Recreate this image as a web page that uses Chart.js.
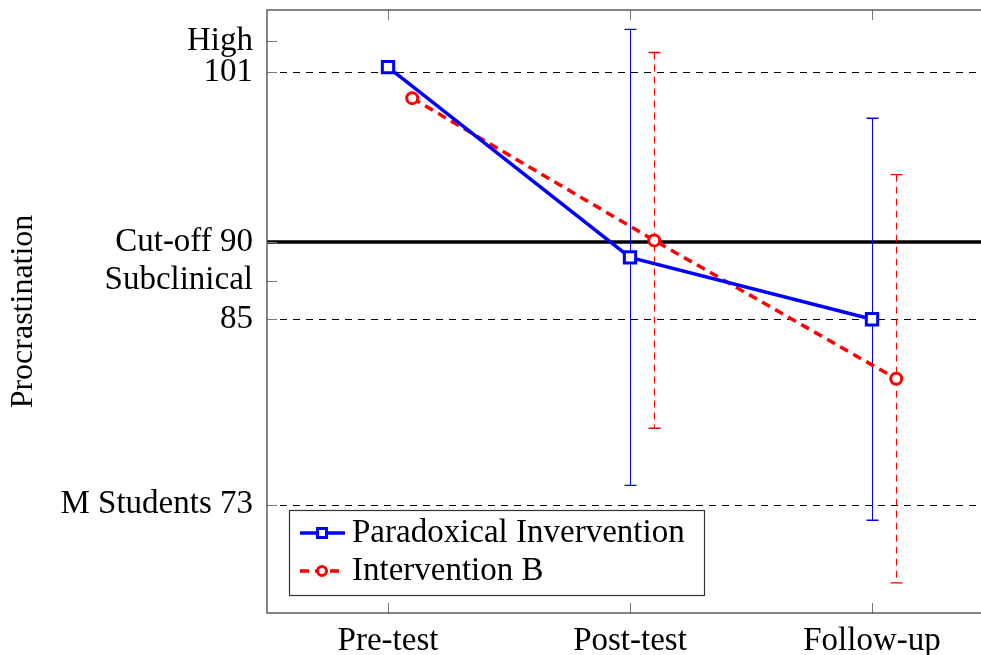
<!DOCTYPE html>
<html lang="en">
  <head>
    <meta charset="UTF-8" />
    <title>Procrastination</title>
    <script src="https://cdn.jsdelivr.net/npm/chart.js"></script>
    <style>
      html, body { margin: 0; background: #fff; overflow: hidden; }
      /* the plot runs past the right edge of the window, as in the picture */
      #wrap { width: 994px; height: 655px; }
    </style>
  </head>
  <body>
    <div id="wrap"><canvas id="myChart"></canvas></div>
    <script>
      // data
      const categories = ["Pre-test", "Post-test", "Follow-up"];
      const catPos = [1, 2, 3];
      const offsetB = 0.1; // intervention B drawn slightly to the right

      const paraLabel = "Paradoxical Invervention";
      const paraMean = [101.3, 89.0, 85.0];
      const paraErr = [null, 14.75, 13.0];

      const bLabel = "Intervention B";
      const bMean = [99.3, 90.1, 81.15];
      const bErr = [null, 12.15, 13.2];

      const yTickVals = [73, 85, 87.5, 90, 101, 103];
      const yTickText = ["M Students 73", "85", "Subclinical", "Cut-off 90", "101", "High"];
      const dashedRefs = [73, 85, 101];
      const cutoff = 90;

      const serif = "'Liberation Serif', 'DejaVu Serif', serif";

      const paraPoints = catPos.map((x, i) => ({ x: x, y: paraMean[i] }));
      const bPoints = catPos.map((x, i) => ({ x: x + offsetB, y: bMean[i] }));

      const errorBars = [
        { means: paraMean, errs: paraErr, shift: 0, color: "#0000ff", dash: [] },
        { means: bMean, errs: bErr, shift: offsetB, color: "#ff0000", dash: [7, 5] },
      ];

      const extras = {
        id: "extras",
        beforeDatasetsDraw(chart) {
          const { ctx, chartArea: a, scales } = chart;
          const x = scales.x, y = scales.y;
          ctx.save();
          // reference lines
          ctx.strokeStyle = "#000";
          ctx.lineWidth = 1;
          ctx.setLineDash([7, 6]);
          dashedRefs.forEach((v) => {
            const py = Math.round(y.getPixelForValue(v)) + 0.5;
            ctx.beginPath();
            ctx.moveTo(a.left, py);
            ctx.lineTo(a.right, py);
            ctx.stroke();
          });
          ctx.setLineDash([]);
          ctx.lineWidth = 3.5;
          const cy = y.getPixelForValue(cutoff);
          ctx.beginPath();
          ctx.moveTo(a.left, cy);
          ctx.lineTo(a.right, cy);
          ctx.stroke();

          // error bars
          errorBars.forEach((s) => {
            ctx.strokeStyle = s.color;
            s.means.forEach((m, i) => {
              if (s.errs[i] == null) return;
              const px = Math.round(x.getPixelForValue(catPos[i] + s.shift)) + 0.5;
              const top = y.getPixelForValue(m + s.errs[i]);
              const bot = y.getPixelForValue(m - s.errs[i]);
              ctx.lineWidth = 1;
              ctx.setLineDash(s.dash);
              ctx.beginPath();
              ctx.moveTo(px, top);
              ctx.lineTo(px, bot);
              ctx.stroke();
              ctx.setLineDash([]);
              ctx.lineWidth = 1.3;
              ctx.beginPath();
              ctx.moveTo(px - 6, top);
              ctx.lineTo(px + 6, top);
              ctx.moveTo(px - 6, bot);
              ctx.lineTo(px + 6, bot);
              ctx.stroke();
            });
          });

          // inward tick marks
          ctx.strokeStyle = "#777";
          ctx.lineWidth = 1;
          yTickVals.forEach((v) => {
            const py = Math.round(y.getPixelForValue(v)) + 0.5;
            ctx.beginPath();
            ctx.moveTo(a.left, py);
            ctx.lineTo(a.left + 10, py);
            ctx.moveTo(a.right, py);
            ctx.lineTo(a.right - 10, py);
            ctx.stroke();
          });
          catPos.forEach((v) => {
            const px = Math.round(x.getPixelForValue(v)) + 0.5;
            ctx.beginPath();
            ctx.moveTo(px, a.bottom);
            ctx.lineTo(px, a.bottom - 10);
            ctx.moveTo(px, a.top);
            ctx.lineTo(px, a.top + 10);
            ctx.stroke();
          });
          ctx.restore();
        },
        afterDatasetsDraw(chart) {
          const { ctx, chartArea: a } = chart;
          ctx.save();
          // frame
          ctx.strokeStyle = "#444";
          ctx.lineWidth = 1.3;
          ctx.strokeRect(a.left, a.top, a.right - a.left, a.bottom - a.top);

          // legend box
          const bx = a.left + 22, by = a.bottom - 103, bw = 415, bh = 85;
          ctx.fillStyle = "#fff";
          ctx.fillRect(bx, by, bw, bh);
          ctx.strokeStyle = "#333";
          ctx.lineWidth = 1.2;
          ctx.strokeRect(bx + 0.5, by + 0.5, bw, bh);
          chart.data.datasets.forEach((ds, i) => {
            const ly = by + 23 + i * 38;
            ctx.strokeStyle = ds.borderColor;
            ctx.lineWidth = ds.borderWidth;
            ctx.setLineDash(ds.borderDash || []);
            ctx.beginPath();
            ctx.moveTo(bx + 11, ly);
            ctx.lineTo(bx + 56, ly);
            ctx.stroke();
            ctx.setLineDash([]);
            ctx.lineWidth = ds.pointBorderWidth;
            ctx.fillStyle = "#fff";
            const mx = bx + 33;
            ctx.beginPath();
            if (ds.pointStyle === "rect") {
              ctx.rect(mx - 4.5, ly - 4.5, 9, 9);
            } else {
              ctx.arc(mx, ly, 4.5, 0, Math.PI * 2);
            }
            ctx.fill();
            ctx.stroke();
            ctx.fillStyle = "#000";
            ctx.font = "33px " + serif;
            ctx.textBaseline = "middle";
            ctx.fillText(ds.label, bx + 63, ly);
          });
          ctx.restore();
        },
      };

      const ctx = document.getElementById("myChart");
      const myChart = new Chart(ctx, {
        type: "line",
        data: {
          datasets: [
            {
              label: paraLabel,
              data: paraPoints,
              borderColor: "#0000ff",
              borderWidth: 3.5,
              pointStyle: "rect",
              pointRadius: 8,
              pointBorderWidth: 3,
              pointBackgroundColor: "#fff",
              pointBorderColor: "#0000ff",
            },
            {
              label: bLabel,
              data: bPoints,
              borderColor: "#ff0000",
              borderWidth: 3.5,
              borderDash: [9, 6],
              pointStyle: "circle",
              pointRadius: 5.5,
              pointBorderWidth: 3,
              pointBackgroundColor: "#fff",
              pointBorderColor: "#ff0000",
            },
          ],
        },
        options: {
          responsive: true,
          maintainAspectRatio: false,
          animation: false,
          layout: { autoPadding: false, padding: { top: 10, right: 1, left: 0, bottom: 0 } },
          plugins: { legend: { display: false }, tooltip: { enabled: false } },
          scales: {
            x: {
              type: "linear",
              min: 0.5,
              max: 3.5,
              afterBuildTicks: (s) => {
                s.ticks = catPos.map((v) => ({ value: v }));
              },
              afterFit: (s) => {
                s.height = 42;
                s.paddingLeft = 0;
                s.paddingRight = 0;
              },
              grid: { display: false },
              border: { display: false },
              ticks: {
                padding: 4,
                color: "#000",
                font: { family: serif, size: 33, lineHeight: 1 },
                maxRotation: 0,
                callback: (v) => categories[catPos.indexOf(v)],
              },
            },
            y: {
              min: 66,
              max: 105,
              afterBuildTicks: (s) => {
                s.ticks = yTickVals.map((v) => ({ value: v }));
              },
              afterFit: (s) => {
                s.width = 267;
                s.paddingTop = 0;
                s.paddingBottom = 0;
              },
              grid: { display: false },
              border: { display: false },
              title: {
                display: true,
                text: "Procrastination",
                color: "#000",
                font: { family: serif, size: 32 },
                padding: { top: 4, bottom: 0 },
              },
              ticks: {
                padding: 6,
                color: "#000",
                font: { family: serif, size: 33 },
                callback: (v) => yTickText[yTickVals.indexOf(v)],
              },
            },
          },
        },
        plugins: [extras],
      });
    </script>
  </body>
</html>
